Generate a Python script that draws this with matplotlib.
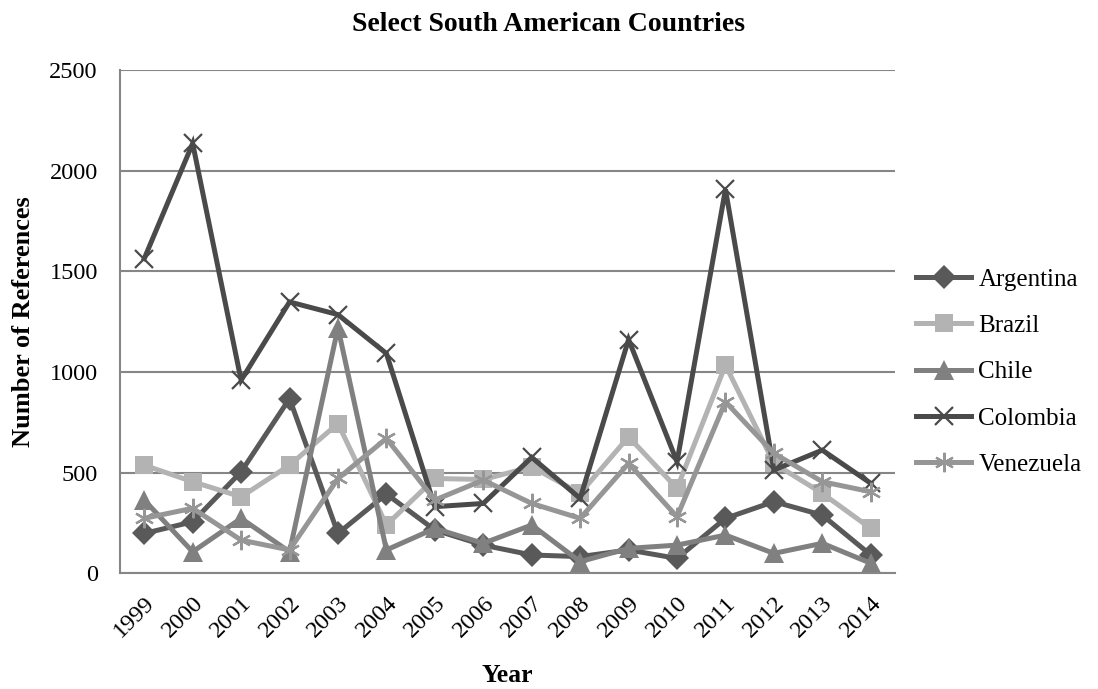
import matplotlib
matplotlib.use("Agg")
import matplotlib.pyplot as plt

years = [str(y) for y in range(1999, 2015)]

argentina = [198, 256, 504, 868, 198, 394, 215, 140, 91, 83, 116, 74, 273, 356, 289, 91]
brazil = [537, 455, 380, 537, 744, 240, 471, 466, 529, 397, 678, 422, 1034, 546, 397, 223]
chile = [364, 107, 273, 107, 1220, 116, 223, 149, 240, 58, 124, 140, 190, 99, 149, 50]
colombia = [1563, 2135, 959, 1348, 1285, 1092, 331, 347, 576, 372, 1161, 554, 1907, 513, 612, 447]
venezuela = [273, 323, 165, 116, 471, 670, 364, 463, 347, 273, 546, 281, 852, 596, 455, 405]

series = [
    ("Argentina", argentina, "#595959", "D", 12.5),
    ("Brazil", brazil, "#b3b3b3", "s", 13.5),
    ("Chile", chile, "#808080", "^", 14),
    ("Colombia", colombia, "#4a4a4a", "x", 13),
    ("Venezuela", venezuela, "#969696", (6, 2, 0), 14),
]

plt.rcParams["font.family"] = ["Liberation Serif", "DejaVu Serif"]

fig = plt.figure(figsize=(10.98, 6.89), dpi=100)
ax = fig.add_axes([0.1093, 0.1679, 0.7058, 0.7305])

x = list(range(len(years)))
handles = []
for name, vals, color, marker, ms in series:
    kw = dict(markeredgewidth=1.6) if marker in ("x", (6, 2, 0)) else dict(markeredgewidth=0)
    (h,) = ax.plot(x, vals, color=color, linewidth=3.6, marker=marker,
                   markersize=ms, markerfacecolor=color, markeredgecolor=color,
                   label=name, solid_joinstyle="miter", **kw)
    handles.append(h)

ax.set_xlim(-0.5, len(years) - 0.5)
ax.set_ylim(0, 2500)
ax.set_yticks(range(0, 2501, 500))
ax.set_xticks(x)
ax.set_xticklabels(years, rotation=45, ha="right", rotation_mode="anchor")
ax.tick_params(axis="both", length=0, labelsize=17.5, colors="black")
ax.tick_params(axis="y", pad=16)
ax.tick_params(axis="x", pad=14)

ax.grid(axis="y", color="#868686", linewidth=1.5)
ax.set_axisbelow(True)
for side in ("top", "right"):
    ax.spines[side].set_visible(False)
for side in ("left", "bottom"):
    ax.spines[side].set_color("#868686")
    ax.spines[side].set_linewidth(1.5)

ax.set_ylabel("Number of References", fontsize=19, fontweight="bold", labelpad=10)
ax.set_xlabel("Year", fontsize=18.5, fontweight="bold", labelpad=16)
fig.text(0.5, 0.964, "Select South American Countries", ha="center", va="center",
         fontsize=20, fontweight="bold")

fig.legend(handles=handles, loc="center left", bbox_to_anchor=(0.8255, 0.46),
           frameon=False, fontsize=18, handlelength=2.2, handletextpad=0.28,
           labelspacing=0.95, borderaxespad=0)

fig.savefig("out.png", dpi=100)
